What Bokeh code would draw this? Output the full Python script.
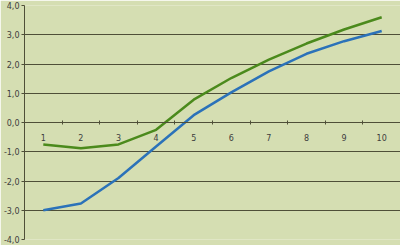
from bokeh.plotting import figure
from bokeh.models import FixedTicker, LinearAxis, Range1d
from bokeh.embed import file_html
from bokeh.resources import INLINE

categories = [1, 2, 3, 4, 5, 6, 7, 8, 9, 10]
green_values = [-0.75, -0.88, -0.75, -0.25, 0.78, 1.52, 2.15, 2.7, 3.18, 3.6]
blue_values = [-3.0, -2.77, -1.9, -0.82, 0.25, 1.03, 1.75, 2.35, 2.78, 3.13]
y_ticks = [-4, -3, -2, -1, 0, 1, 2, 3, 4]
y_tick_labels = {t: f"{t:.1f}".replace(".", ",") for t in y_ticks}

bg = "#d5deb2"
grid = "#4f4f38"
txt = "#3d3d3d"

p = figure(width=400, height=245, output_backend="svg", toolbar_location=None,
           x_range=Range1d(0.5, 10.5), y_range=Range1d(-4, 4),
           min_border_left=22, min_border_right=0, min_border_top=5, min_border_bottom=6,
           background_fill_color=bg, border_fill_color=bg, outline_line_color=None,
           x_axis_location=None, y_axis_location=None)

yaxis = LinearAxis(ticker=FixedTicker(ticks=y_ticks), major_label_overrides=y_tick_labels,
                   axis_line_color=grid, major_tick_line_color=grid, major_tick_out=3, major_tick_in=0,
                   minor_tick_line_color=None, major_label_text_font="DejaVu Sans",
                   major_label_text_font_size="8px", major_label_text_color=txt,
                   major_label_standoff=2)
p.add_layout(yaxis, "left")

xaxis = LinearAxis(ticker=FixedTicker(ticks=categories, minor_ticks=[c - 0.5 for c in categories] + [10.5]),
                   fixed_location=0, axis_line_color=grid, major_tick_line_color=None,
                   minor_tick_line_color=grid, minor_tick_in=2, minor_tick_out=2,
                   major_label_text_font="DejaVu Sans", major_label_text_font_size="8px",
                   major_label_text_color=txt, major_label_standoff=5)
p.add_layout(xaxis, "below")

p.ygrid.ticker = FixedTicker(ticks=y_ticks)
p.ygrid.grid_line_color = grid
p.ygrid.grid_line_width = 1
p.xgrid.grid_line_color = None
for r in p.ygrid:
    pass

p.line(categories, green_values, line_color="#4b8a1c", line_width=2.5)
p.line(categories, blue_values, line_color="#2b72b9", line_width=2.5)

open("out.html", "w").write(file_html(p, INLINE))
